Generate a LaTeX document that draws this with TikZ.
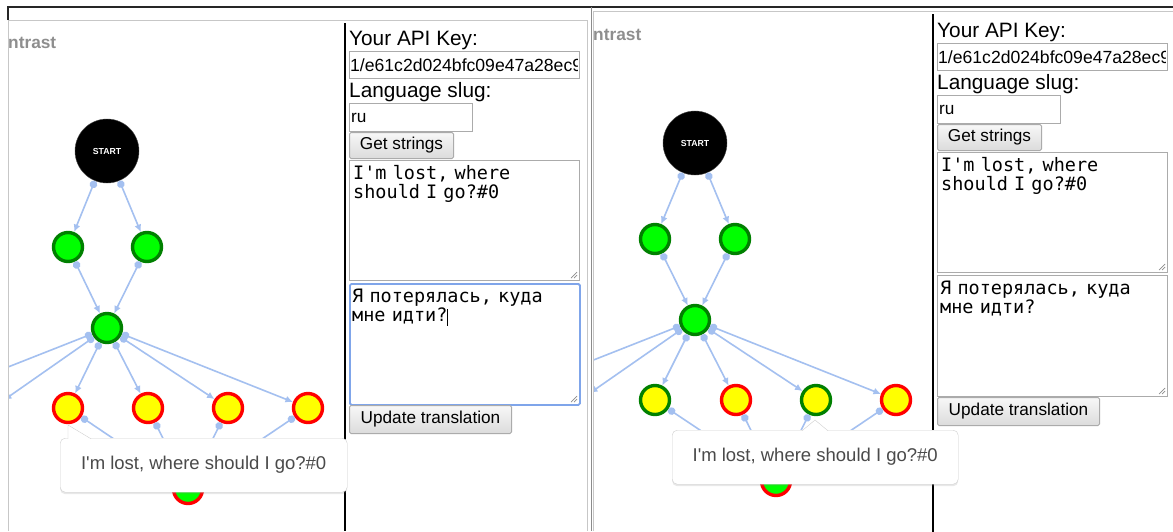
\documentclass[tikz,border=0pt]{standalone}
\usepackage{fontspec}
\setmainfont{Liberation Sans}
\setmonofont{DejaVu Sans Mono}
\usetikzlibrary{arrows.meta,positioning,shadows}

\definecolor{flowblue}{HTML}{A4C0F0}
\definecolor{passfill}{HTML}{00FF00}
\definecolor{passring}{HTML}{008000}
\definecolor{failring}{HTML}{FF0000}
\definecolor{pendfill}{HTML}{FFFF00}
\definecolor{boxgray}{HTML}{ABABAB}
\definecolor{focusblue}{HTML}{7FA5EA}
\definecolor{tipgray}{HTML}{CFCFCF}
\definecolor{tiptext}{HTML}{4A4A4A}
\definecolor{headgray}{HTML}{8E8E8E}

\begin{document}
\begin{tikzpicture}[
    x=1pt, y=-1pt,
    startnode/.style={
        circle,
        fill=black,
        draw=black!70,
        minimum size=64pt,
        inner sep=0pt,
        text=white,
        font=\fontsize{8.7}{10}\selectfont\bfseries
    },
    state/.style={circle, line width=3.4pt, minimum size=29pt, inner sep=0pt},
    passnode/.style={state, draw=passring, fill=passfill},
    failnode/.style={state, draw=failring, fill=pendfill},
    donenode/.style={state, draw=passring, fill=pendfill},
    mixnode/.style={state, draw=failring, fill=passfill},
    flow/.style={draw=flowblue, line width=1.6pt, {Circle[length=7.5pt]}-{Latex[length=7.5pt,width=7pt]}},
    heading/.style={anchor=base west, inner sep=0pt, text=headgray, font=\fontsize{17.3}{20}\selectfont\bfseries},
    formlabel/.style={anchor=base west, inner sep=0pt, font=\fontsize{20.8}{24}\selectfont},
    inputbox/.style={
        draw=boxgray,
        line width=1.2pt,
        fill=white,
        anchor=north west,
        minimum height=27pt,
        inner sep=0pt
    },
    inputtext/.style={anchor=base west, inner sep=0pt, font=\fontsize{17.2}{20}\selectfont},
    pushbutton/.style={
        draw=boxgray,
        line width=1pt,
        rounded corners=1.5pt,
        top color=black!3,
        bottom color=black!14,
        anchor=north west,
        minimum height=27pt,
        inner sep=0pt,
        font=\fontsize{17.2}{20}\selectfont
    },
    textarea/.style={
        draw=boxgray,
        line width=1.2pt,
        fill=white,
        anchor=north west,
        minimum width=230pt,
        minimum height=120pt,
        inner sep=0pt
    },
    monotext/.style={anchor=base west, inner sep=0pt, text width=226pt, align=left, font=\ttfamily\fontsize{18.5}{19.5}\selectfont},
    tooltip/.style={
        draw=tipgray,
        fill=white,
        rounded corners=5pt,
        anchor=north west,
        minimum width=287pt,
        minimum height=54pt,
        text=tiptext,
        font=\fontsize{18.5}{22}\selectfont,
        drop shadow={shadow xshift=0pt, shadow yshift=-2pt, opacity=0.18}
    },
    pointer/.style={draw=tipgray, fill=white},
    grip/.style={draw=black!45, line width=0.7pt},
    lightframe/.style={draw=black!22, line width=1pt},
    darkframe/.style={draw=black!85, line width=1.2pt},
    divider/.style={draw=black, line width=1.3pt}
]

\useasboundingbox (0,0) rectangle (1173,531);
\fill[white] (0,0) rectangle (1173,531);

% Window frames
\draw[darkframe] (8,20) -- (8,7) -- (1173,7);
\draw[lightframe] (8,531) -- (8,20) -- (587,20) -- (587,531);
\draw[draw=black!45, line width=1pt] (591,7) -- (591,531);
\draw[lightframe] (593,531) -- (593,11) -- (1173,11);

%%%%%%%%%%%%%%%% first window %%%%%%%%%%%%%%%%

\draw[divider] (345,23) -- (345,531);
\node[heading] (headA) at (8,48) {ntrast};

% Graph
\node[startnode] (startA) at (107,151) {START};
\node[passnode] (g1A) at (68,247) {};
\node[passnode] (g2A) at (147,247) {};
\node[passnode] (midA) at (107,328) {};
\node[failnode] (y1A) at (68,408) {};
\node[failnode] (y2A) at (148,408) {};
\node[failnode] (y3A) at (228,408) {};
\node[failnode] (y4A) at (308,408) {};
\node[mixnode] (endA) at (188,489) {};
\coordinate (offA1) at (-30,382);
\coordinate (offA2) at (4,400);

\draw[flow] (startA) -- (g1A);
\draw[flow] (startA) -- (g2A);
\draw[flow] (g1A) -- (midA);
\draw[flow] (g2A) -- (midA);
\draw[flow] (midA) -- (y1A);
\draw[flow] (midA) -- (y2A);
\draw[flow] (midA) -- (y3A);
\draw[flow] (midA) -- (y4A);
\draw[flow] (y1A) -- (endA);
\draw[flow] (y2A) -- (endA);
\draw[flow] (y3A) -- (endA);
\draw[flow] (y4A) -- (endA);
\begin{scope}
    \clip (9,20) rectangle (344,531);
    \draw[flow] (midA) -- (offA1);
    \draw[flow] (midA) -- (offA2);
\end{scope}

% Form
\node[formlabel] (keyLabelA) at (349,45) {Your API Key:};
\node[inputbox, minimum width=230pt] (keyA) at (349,51) {};
\begin{scope}
    \clip ([xshift=1pt]keyA.north west) rectangle ([xshift=-3pt]keyA.south east);
    \node[inputtext, font=\fontsize{17.6}{20}\selectfont] (keyTextA) at (350,71) {1/e61c2d024bfc09e47a28ec9};
\end{scope}
\node[formlabel] (slugLabelA) at (349,97) {Language slug:};
\node[inputbox, minimum width=123pt, minimum height=28pt] (slugA) at (349,103) {};
\node[inputtext] (slugTextA) at (351,122) {ru};
\node[pushbutton, minimum width=104pt, minimum height=26pt] (getA) at (349,132) {Get strings};

\node[textarea] (srcA) at (349,160) {};
\node[monotext] (srcTextA) at (353,179) {I'm lost, where\\should I go?\#0};
\draw[grip] (571,278) -- (577,272) (574,278) -- (577,275);

\node[textarea, draw=focusblue, line width=1.8pt, rounded corners=1.5pt, minimum height=121pt] (dstA) at (349,283) {};
\node[monotext] (dstTextA) at (352,302) {Я потерялась, куда\\мне идти?};
\draw[black, line width=0.8pt] (447,309) -- (447,326);
\draw[grip] (571,402) -- (577,396) (574,402) -- (577,399);

\node[pushbutton, minimum width=162pt, minimum height=28pt] (updateA) at (349,405) {Update translation};

% Hover box
\node[tooltip] (tipA) at (60,438) {I\textquotesingle m lost, where should I go?\#0};
\filldraw[pointer] ([xshift=8pt,yshift=-0.8pt]tipA.north west) -- ([xshift=8pt,yshift=13pt]tipA.north west) -- ([xshift=31pt,yshift=-0.8pt]tipA.north west);

%%%%%%%%%%%%%%%% second window %%%%%%%%%%%%%%%%

\begin{scope}[shift={(588,-8)}]

\draw[divider] (345,22) -- (345,540);
\node[heading] (headB) at (5,48) {ntrast};

% Graph
\node[startnode] (startB) at (107,151) {START};
\node[passnode] (g1B) at (67,247) {};
\node[passnode] (g2B) at (147,247) {};
\node[passnode] (midB) at (107,328) {};
\node[donenode] (y1B) at (67,408) {};
\node[failnode] (y2B) at (148,408) {};
\node[donenode] (y3B) at (228,408) {};
\node[failnode] (y4B) at (308,408) {};
\node[mixnode] (endB) at (188,489) {};
\coordinate (offB1) at (-30,382);
\coordinate (offB2) at (2,401);

\draw[flow] (startB) -- (g1B);
\draw[flow] (startB) -- (g2B);
\draw[flow] (g1B) -- (midB);
\draw[flow] (g2B) -- (midB);
\draw[flow] (midB) -- (y1B);
\draw[flow] (midB) -- (y2B);
\draw[flow] (midB) -- (y3B);
\draw[flow] (midB) -- (y4B);
\draw[flow] (y1B) -- (endB);
\draw[flow] (y2B) -- (endB);
\draw[flow] (y3B) -- (endB);
\draw[flow] (y4B) -- (endB);
\begin{scope}
    \clip (6,20) rectangle (344,540);
    \draw[flow] (midB) -- (offB1);
    \draw[flow] (midB) -- (offB2);
\end{scope}

% Form
\node[formlabel] (keyLabelB) at (349,45) {Your API Key:};
\node[inputbox, minimum width=230pt] (keyB) at (349,51) {};
\begin{scope}
    \clip ([xshift=1pt]keyB.north west) rectangle ([xshift=-3pt]keyB.south east);
    \node[inputtext, font=\fontsize{17.6}{20}\selectfont] (keyTextB) at (350,71) {1/e61c2d024bfc09e47a28ec9};
\end{scope}
\node[formlabel] (slugLabelB) at (349,97) {Language slug:};
\node[inputbox, minimum width=123pt, minimum height=28pt] (slugB) at (349,103) {};
\node[inputtext] (slugTextB) at (351,122) {ru};
\node[pushbutton, minimum width=104pt, minimum height=26pt] (getB) at (349,132) {Get strings};

\node[textarea] (srcB) at (349,160) {};
\node[monotext] (srcTextB) at (353,179) {I'm lost, where\\should I go?\#0};
\draw[grip] (571,278) -- (577,272) (574,278) -- (577,275);

\node[textarea, minimum height=121pt] (dstB) at (349,283) {};
\node[monotext] (dstTextB) at (352,302) {Я потерялась, куда\\мне идти?};
\draw[grip] (571,402) -- (577,396) (574,402) -- (577,399);

\node[pushbutton, minimum width=162pt, minimum height=28pt] (updateB) at (349,405) {Update translation};

% Hover box
\node[tooltip, minimum width=286pt] (tipB) at (84,438) {I\textquotesingle m lost, where should I go?\#0};
\filldraw[pointer] ([xshift=130pt,yshift=-0.8pt]tipB.north west) -- ([xshift=143pt,yshift=10pt]tipB.north west) -- ([xshift=156pt,yshift=-0.8pt]tipB.north west);

\end{scope}

\end{tikzpicture}
\end{document}
